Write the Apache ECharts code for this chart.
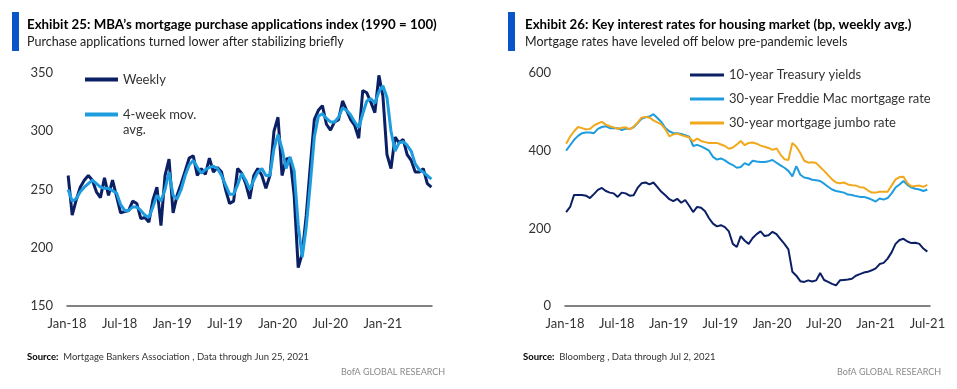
<!DOCTYPE html>
<html><head><meta charset="utf-8">
<script src="https://cdn.jsdelivr.net/npm/echarts@6/dist/echarts.min.js"></script>
<style>html,body{margin:0;padding:0;background:#fff}#c{width:957px;height:389px}</style>
</head><body><div id="c"></div>
<script>
const xLabels = ['Jan-18','Jul-18','Jan-19','Jul-19','Jan-20','Jul-20','Jan-21','Jul-21'];
const leftYTicks = [150, 200, 250, 300, 350];
const rightYTicks = [0, 200, 400, 600];

// MBA purchase index, first obs 2018-01-05, every 2 weeks
const mbaWeekly = [262,228,241,252,258,262,258,248,243,260,
  245,258,244,230,231,232,240,238,225,226,
  222,241,252,219,262,276,230,245,255,266,
  277,279,262,268,263,277,265,269,265,250,
  238,240,268,264,255,242,262,268,262,251,
  262,300,312,262,276,277,245,183,195,228,
  270,310,318,322,306,301,308,310,326,318,
  310,305,294,335,333,325,316,348,330,280,
  268,295,290,293,280,275,265,265,268,255,252];
const mbaAvg = [250,240,242,248,252,255,258,255,252,251,
  251,249,247,237,232,232,235,235,232,228,
  226,235,245,240,250,265,245,242,250,262,
  271,275,269,264,267,269,270,268,262,254,
  246,246,254,264,258,250,258,265,268,262,
  262,285,297,285,268,278,266,220,192,218,
  255,295,313,315,311,308,308,312,320,318,
  314,308,303,315,326,328,324,334,339,329,
  300,283,290,291,288,283,272,267,265,262,259];

// Rates (bp), first obs 2018-01-05, every 2 weeks
const ust10 = [242,255,286,286,286,284,278,288,299,304,
  296,292,290,281,292,290,284,285,304,316,
  318,313,318,306,294,285,275,270,276,266,
  273,258,242,255,253,244,226,212,205,208,
  203,192,160,152,180,168,160,175,185,192,
  180,182,191,185,172,160,146,88,78,64,
  62,66,63,66,85,67,62,57,53,66,
  67,68,70,78,82,86,88,92,97,108,
  111,122,138,160,170,173,166,162,163,160,148,140];
const freddie30 = [400,414,428,438,445,447,447,445,456,461,
  463,458,458,458,453,457,456,460,471,482,
  486,488,494,484,474,458,450,445,445,443,
  440,436,412,415,411,406,400,384,377,380,
  375,368,363,356,358,368,363,374,372,371,
  371,373,376,369,362,356,348,334,360,338,
  331,329,325,324,322,315,307,300,296,294,
  292,287,286,283,281,281,278,274,269,277,
  274,278,290,305,313,322,312,305,302,300,296,300];
const jumbo30 = [418,436,450,461,458,455,456,465,470,474,
  467,463,460,456,459,460,455,462,472,485,
  487,485,478,473,468,455,437,442,444,440,
  437,434,424,431,425,422,420,420,420,416,
  412,405,408,416,425,414,420,421,418,413,
  410,407,402,406,390,378,376,420,410,394,
  374,369,370,368,358,348,337,326,318,316,
  318,313,311,310,306,305,298,292,292,294,
  294,294,310,326,332,333,316,308,309,310,307,312];

// ---- helpers ----
const DAY = 86400000, MONTH = 30.4375 * DAY;
const ORIGIN = Date.UTC(2018, 0, 1);
const FIRST = Date.UTC(2018, 0, 5);
function toPairs(vals) {
  return vals.map((v, i) => [(FIRST + i * 14 * DAY - ORIGIN) / MONTH, v]);
}
const NAVY = '#0b1f65', LIGHT = '#1d9ddf', ORANGE = '#f2a81d';
const LBL = 'Lato, "Open Sans", sans-serif';

function xAxisCfg(grid, max) {
  return {
    type: 'value', gridIndex: grid, min: 0, max: max, interval: 6,
    splitLine: {show: false}, axisTick: {show: false},
    axisLine: {show: true, onZero: false, lineStyle: {color: '#5a5a5a', width: 1.5}},
    axisLabel: {
      fontFamily: LBL, fontSize: 13, color: '#333', margin: 11, showMaxLabel: false,
      formatter: v => { const i = Math.round(v / 6); return Math.abs(v - i * 6) < 1e-6 ? (xLabels[i] || '') : ''; }
    }
  };
}
function yAxisCfg(grid, ticks) {
  return {
    type: 'value', gridIndex: grid, min: ticks[0], max: ticks[ticks.length - 1],
    interval: ticks[1] - ticks[0],
    splitLine: {show: false}, axisTick: {show: false}, axisLine: {show: false},
    axisLabel: {fontFamily: LBL, fontSize: 13, color: '#333', margin: 14}
  };
}
function line(name, vals, color, width, xi) {
  return {
    name: name, type: 'line', xAxisIndex: xi, yAxisIndex: xi, data: toPairs(vals),
    showSymbol: false, symbol: 'none', lineStyle: {color: color, width: width}, itemStyle: {color: color},
    z: 2
  };
}
const legendText = {fontFamily: LBL, fontSize: 13, color: '#333', lineHeight: 15};
const titleStyle = {fontFamily: LBL, fontWeight: 'bold', fontSize: 13.3, color: '#000'};
const subStyle = {fontFamily: LBL, fontWeight: 'normal', fontSize: 12.5, color: '#222'};
const srcStyle = {fontFamily: LBL, fontWeight: 'normal', fontSize: 9.5, color: '#333',
  rich: {b: {fontFamily: LBL, fontWeight: 'bold', fontSize: 9.5, color: '#000'}}};
const bofaStyle = {fontFamily: LBL, fontWeight: 'normal', fontSize: 9, color: '#8a8a8a'};

const chart = echarts.init(document.getElementById('c'), null, {renderer: 'canvas'});
chart.setOption({
  animation: false,
  backgroundColor: '#fff',
  title: [
    {text: 'Exhibit 25: MBA\u2019s mortgage purchase applications index (1990 = 100)', left: 27, top: 18, padding: 0, textStyle: titleStyle},
    {text: 'Purchase applications turned lower after stabilizing briefly', left: 27, top: 35, padding: 0, textStyle: subStyle},
    {text: 'Exhibit 26: Key interest rates for housing market (bp, weekly avg.)', left: 525, top: 18, padding: 0, textStyle: titleStyle},
    {text: 'Mortgage rates have leveled off below pre-pandemic levels', left: 525, top: 35, padding: 0, textStyle: subStyle},
    {text: '{b|Source:}  Mortgage Bankers Association , Data through Jun 25, 2021', left: 27, top: 352, padding: 0, textStyle: srcStyle},
    {text: 'BofA GLOBAL RESEARCH', left: 341, top: 368, padding: 0, textStyle: bofaStyle},
    {text: '{b|Source:}  Bloomberg , Data through Jul 2, 2021', left: 523, top: 352, padding: 0, textStyle: srcStyle},
    {text: 'BofA GLOBAL RESEARCH', left: 837, top: 368, padding: 0, textStyle: bofaStyle}
  ],
  graphic: [
    {type: 'rect', left: 12, top: 12, shape: {width: 7, height: 39}, style: {fill: '#0a54c9'}},
    {type: 'rect', left: 508, top: 12, shape: {width: 7, height: 39}, style: {fill: '#0a54c9'}}
  ],
  legend: [
    {data: ['Weekly'], orient: 'vertical', left: 85, top: 72, padding: 0, icon: 'rect',
      itemWidth: 33, itemHeight: 4, textStyle: legendText, selectedMode: false},
    {data: ['4-week mov. avg.'], orient: 'vertical', left: 85, top: 92, padding: 0, icon: 'rect',
      itemWidth: 33, itemHeight: 4, textStyle: legendText, selectedMode: false,
      formatter: () => '\n4-week mov.\navg.'},
    {data: ['10-year Treasury yields', '30-year Freddie Mac mortgage rate', '30-year mortgage jumbo rate'],
      orient: 'vertical', left: 690, top: 67, padding: 0, icon: 'rect', itemGap: 8,
      itemWidth: 34, itemHeight: 3, textStyle: {fontFamily: LBL, fontSize: 13, color: '#333', lineHeight: 16},
      selectedMode: false}
  ],
  grid: [
    {left: 67, top: 73, width: 365, height: 233},
    {left: 565, top: 73, width: 365, height: 233}
  ],
  xAxis: [xAxisCfg(0, 41.6), xAxisCfg(1, 42.3)],
  yAxis: [yAxisCfg(0, leftYTicks), yAxisCfg(1, rightYTicks)],
  series: [
    line('Weekly', mbaWeekly, NAVY, 3, 0),
    line('4-week mov. avg.', mbaAvg, LIGHT, 3, 0),
    line('10-year Treasury yields', ust10, NAVY, 2, 1),
    line('30-year Freddie Mac mortgage rate', freddie30, LIGHT, 2, 1),
    line('30-year mortgage jumbo rate', jumbo30, ORANGE, 2, 1)
  ]
});
</script></body></html>
